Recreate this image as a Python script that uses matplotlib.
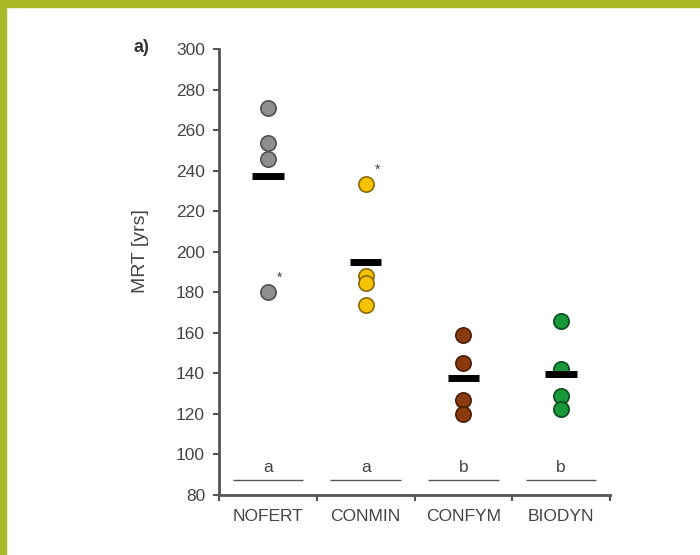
import numpy as np
import matplotlib
matplotlib.use("Agg")
import matplotlib.pyplot as plt
from matplotlib.patches import Rectangle

plt.rcParams['font.family'] = ['Liberation Sans', 'DejaVu Sans']

# data
groups = ["NOFERT", "CONMIN", "CONFYM", "BIODYN"]
nofert = [271, 253.5, 245.5, 180]
conmin = [233.5, 188, 184.5, 173.5]
confym = [159, 145, 127, 120]
biodyn = [166, 142, 129, 122.5]
letters = ["a", "a", "b", "b"]
# outliers flagged with an asterisk: (group index, value)
flagged = [(0, 180), (1, 233.5)]

fills = ["#8e8e8e", "#f7c300", "#8a3b0e", "#17983a"]
edges = ["#505050", "#8a6a10", "#4a1e05", "#0b4a1c"]
grey = "#555555"
txt = "#444444"

series = [nofert, conmin, confym, biodyn]

fig = plt.figure(figsize=(7.0, 5.55), dpi=100)
fig.patches.append(Rectangle((0, 1 - 7 / 555), 1, 7 / 555, transform=fig.transFigure,
                             color="#a8b826", zorder=0))
fig.patches.append(Rectangle((0, 0), 6 / 700, 1, transform=fig.transFigure,
                             color="#a8b826", zorder=0))

ax = fig.add_axes([219 / 700, 1 - 495 / 555, 391 / 700, 446 / 555])

for i, vals in enumerate(series):
    x = np.full(len(vals), i + 1)
    ax.plot(x, vals, 'o', ms=11, mfc=fills[i], mec=edges[i], mew=1.2, zorder=3)
    ax.hlines(np.mean(vals), i + 1 - 0.16, i + 1 + 0.16, colors="black", lw=5, zorder=4)
    # significance letters with underline
    ax.hlines(87.5, i + 1 - 0.36, i + 1 + 0.36, colors=grey, lw=1.0)
    ax.text(i + 1, 90, letters[i], ha="center", va="bottom", fontsize=12.5, color=txt)

for gi, v in flagged:
    ax.text(gi + 1.12, v + 7, "*", ha="center", va="center", fontsize=10, color=txt)

ax.set_xlim(0.5, 4.5)
ax.set_ylim(80, 300)
ax.set_yticks(np.arange(80, 301, 20))
ax.set_xticks([1, 2, 3, 4])
ax.set_xticklabels(groups)
ax.set_xticks([0.5, 1.5, 2.5, 3.5, 4.5], minor=True)
ax.tick_params(axis="x", which="major", length=0, pad=10, labelsize=12.5, labelcolor=txt)
ax.tick_params(axis="x", which="minor", length=4, width=1.5, color=grey, direction="out")
ax.tick_params(axis="y", length=4, width=1.5, color=grey, labelsize=12.5, labelcolor=txt, pad=6)

for s in ["top", "right"]:
    ax.spines[s].set_visible(False)
for s in ["left", "bottom"]:
    ax.spines[s].set_color(grey)
    ax.spines[s].set_linewidth(2)

ax.set_ylabel("MRT [yrs]", fontsize=14, color=txt)
ax.yaxis.set_label_coords(-0.178, 0.547)
fig.text(141 / 700, 1 - 48 / 555, "a)", fontsize=13, fontweight="bold", color="#333333",
         ha="center", va="center")

fig.savefig("out.png", dpi=100)
